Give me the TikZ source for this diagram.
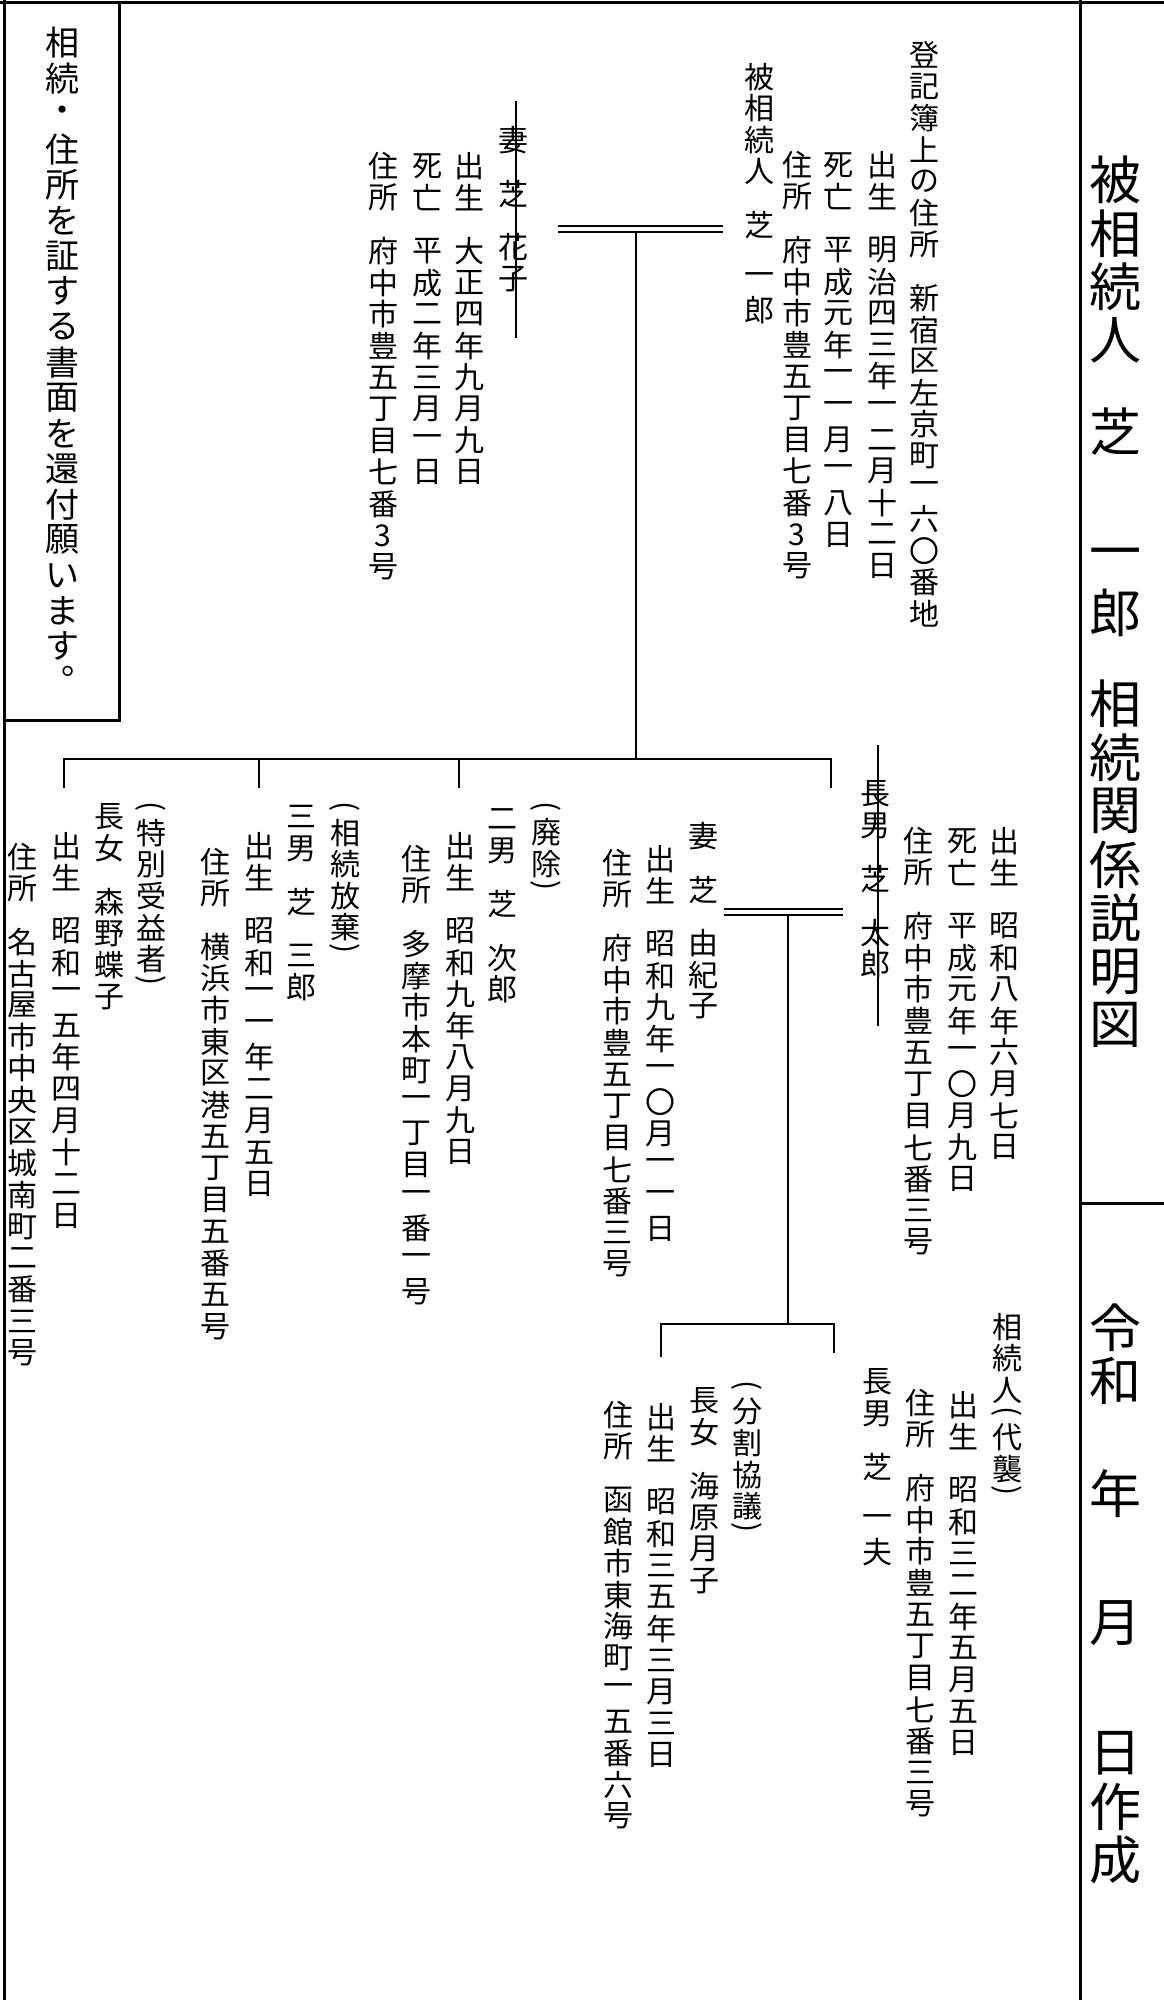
\documentclass[tikz,border=0pt]{standalone}
\usepackage{fontspec}
\usepackage{graphicx}
\setmainfont{Noto Sans CJK JP}
\ExplSyntaxOn
\dim_new:N \l_vt_pitch_dim
\cs_new_protected:Npn \vt_slot:nn #1#2
  {
    \hbox_to_wd:nn {1.2em}
      { \hss \vbox_to_ht:nn {#1} { \vss \hbox:n {#2} \vss } \hss }
  }
\cs_new_protected:Npn \vt_char:n #1
  {
    \str_case:nnF {#1}
      {
        {|} { \kern 0.7\l_vt_pitch_dim }
        {(} { \vt_slot:nn {0.5\l_vt_pitch_dim} { \rotatebox[origin=c]{-90}{(} } }
        {)} { \vt_slot:nn {0.5\l_vt_pitch_dim} { \rotatebox[origin=c]{-90}{)} } }
        {。} { \vbox_to_ht:nn {\l_vt_pitch_dim} { \kern 0.06em \hbox_to_wd:nn {1.2em} { \kern 0.58em 。 \hss } \vss } }
      }
      { \vt_slot:nn {\l_vt_pitch_dim} {#1} }
  }
\NewDocumentCommand \vt { O{31.6pt} m }
  {
    \dim_set:Nn \l_vt_pitch_dim {#1}
    \vbox:n { \offinterlineskip \tl_map_function:nN {#2} \vt_char:n }
  }
\ExplSyntaxOff
\tikzset{
  txt/.style={anchor=north, inner sep=0pt, outer sep=0pt, font=\fontsize{30}{30}\selectfont},
  big/.style={anchor=north, inner sep=0pt, outer sep=0pt, font=\fontsize{52}{52}\selectfont},
  notebox/.style={anchor=north, inner sep=0pt, outer sep=0pt, font=\fontsize{34}{34}\selectfont},
  frame/.style={line width=3pt},
  conn/.style={line width=2pt},
  marry/.style={double, double distance=4pt, line width=2pt},
  strike/.style={line width=1.6pt}
}
\begin{document}
\begin{tikzpicture}[x=1pt,y=-1pt]
\useasboundingbox (0,0) rectangle (1164,2000);
% frame
\draw[frame] (0,2) -- (1164,2);
\draw[frame] (4,0) -- (4,2000);
\draw[frame] (1080,0) -- (1080,2000);
\draw[frame] (1080,1203) -- (1164,1203);
\draw[frame] (4,720) -- (119,720) -- (119,2);
% title panel
\node[big] (title) at (1115,153) {\vt[53.5pt]{被相続人|芝||一郎|相続関係説明図}};
\node[big] (date1) at (1115,1301) {\vt[53pt]{令和}};
\node[big] (date2) at (1115,1467) {\vt[53pt]{年}};
\node[big] (date3) at (1115,1597) {\vt[53pt]{月}};
\node[big] (date4) at (1115,1727) {\vt[53pt]{日作成}};
% left box
\node[notebox] (note) at (62,25) {\vt[35.5pt]{相続・住所を証する書面を還付願います。}};
% decedent
\node[txt] (regaddr) at (924,39) {\vt{登記簿上の住所|新宿区左京町一六〇番地}};
\node[txt] (dbirth) at (882,149) {\vt{出生|明治四三年一二月十二日}};
\node[txt] (ddeath) at (838,149) {\vt{死亡|平成元年一一月一八日}};
\node[txt] (daddr) at (797,149) {\vt{住所|府中市豊五丁目七番3号}};
\node[txt] (dname) at (759,61) {\vt{被相続人|芝|一郎}};
% wife
\node[txt] (wname) at (513,124) {\vt{妻|芝|花子}};
\node[txt] (wbirth) at (469,150) {\vt{出生|大正四年九月九日}};
\node[txt] (wdeath) at (427,150) {\vt{死亡|平成二年三月一日}};
\node[txt] (waddr) at (383,150) {\vt{住所|府中市豊五丁目七番3号}};
% eldest son
\node[txt] (s1name) at (875,778) {\vt{長男|芝|太郎}};
\node[txt] (s1birth) at (1004,825) {\vt{出生|昭和八年六月七日}};
\node[txt] (s1death) at (962,825) {\vt{死亡|平成元年一〇月九日}};
\node[txt] (s1addr) at (918,825) {\vt{住所|府中市豊五丁目七番三号}};
% his wife
\node[txt] (s1wname) at (703,820) {\vt{妻|芝|由紀子}};
\node[txt] (s1wbirth) at (660,843) {\vt{出生|昭和九年一〇月一一日}};
\node[txt] (s1waddr) at (617,847) {\vt{住所|府中市豊五丁目七番三号}};
% second son
\node[txt] (s2note) at (546,801) {\vt{(廃除)}};
\node[txt] (s2name) at (502,803) {\vt{二男|芝|次郎}};
\node[txt] (s2birth) at (460,830) {\vt{出生|昭和九年八月九日}};
\node[txt] (s2addr) at (416,843) {\vt{住所|多摩市本町一丁目一番一号}};
% third son
\node[txt] (s3note) at (345,801) {\vt{(相続放棄)}};
\node[txt] (s3name) at (301,801) {\vt{三男|芝|三郎}};
\node[txt] (s3birth) at (259,830) {\vt{出生|昭和一一年二月五日}};
\node[txt] (s3addr) at (215,846) {\vt{住所|横浜市東区港五丁目五番五号}};
% eldest daughter
\node[txt] (d1note) at (151,801) {\vt{(特別受益者)}};
\node[txt] (d1name) at (109,801) {\vt{長女|森野蝶子}};
\node[txt] (d1birth) at (66,830) {\vt{出生|昭和一五年四月十二日}};
\node[txt] (d1addr) at (23,841) {\vt{住所|名古屋市中央区城南町二番三号}};
% grandson
\node[txt] (gnote) at (1007,1311) {\vt{相続人(代襲)}};
\node[txt] (gbirth) at (963,1389) {\vt{出生|昭和三二年五月五日}};
\node[txt] (gaddr) at (920,1387) {\vt{住所|府中市豊五丁目七番三号}};
\node[txt] (gname) at (877,1366) {\vt{長男|芝|一夫}};
% granddaughter
\node[txt] (g2note) at (747,1380) {\vt{(分割協議)}};
\node[txt] (g2name) at (704,1385) {\vt{長女|海原月子}};
\node[txt] (g2birth) at (661,1401) {\vt{出生|昭和三五年三月三日}};
\node[txt] (g2addr) at (618,1399) {\vt{住所|函館市東海町一五番六号}};
% connector points
\coordinate (m1L) at (558,229);
\coordinate (m1R) at (723,229);
\coordinate (m1D) at (636,232);
\coordinate (bar1M) at (636,759);
\coordinate (bar1L) at (64,759);
\coordinate (bar1R) at (831,759);
\coordinate (t1) at (64,788);
\coordinate (t2a) at (259,759);
\coordinate (t2) at (259,788);
\coordinate (t3a) at (459,759);
\coordinate (t3) at (459,788);
\coordinate (t4) at (831,788);
\coordinate (m2L) at (724,911.5);
\coordinate (m2R) at (843,911.5);
\coordinate (m2D) at (788,914);
\coordinate (bar2M) at (788,1324);
\coordinate (bar2L) at (661,1324);
\coordinate (bar2R) at (834,1324);
\coordinate (u1) at (661,1357);
\coordinate (u2) at (834,1353);
\coordinate (k1T) at (516,101);
\coordinate (k1B) at (516,338);
\coordinate (k2T) at (878,745);
\coordinate (k2B) at (878,1026);
% connectors
\draw[marry] (m1L) -- (m1R);
\draw[conn] (m1D) -- (bar1M);
\draw[conn] (t1) -- (bar1L) -- (bar1R) -- (t4);
\draw[conn] (t2a) -- (t2);
\draw[conn] (t3a) -- (t3);
\draw[marry] (m2L) -- (m2R);
\draw[conn] (m2D) -- (bar2M);
\draw[conn] (u1) -- (bar2L) -- (bar2R) -- (u2);
\draw[strike] (k1T) -- (k1B);
\draw[strike] (k2T) -- (k2B);
\end{tikzpicture}
\end{document}
